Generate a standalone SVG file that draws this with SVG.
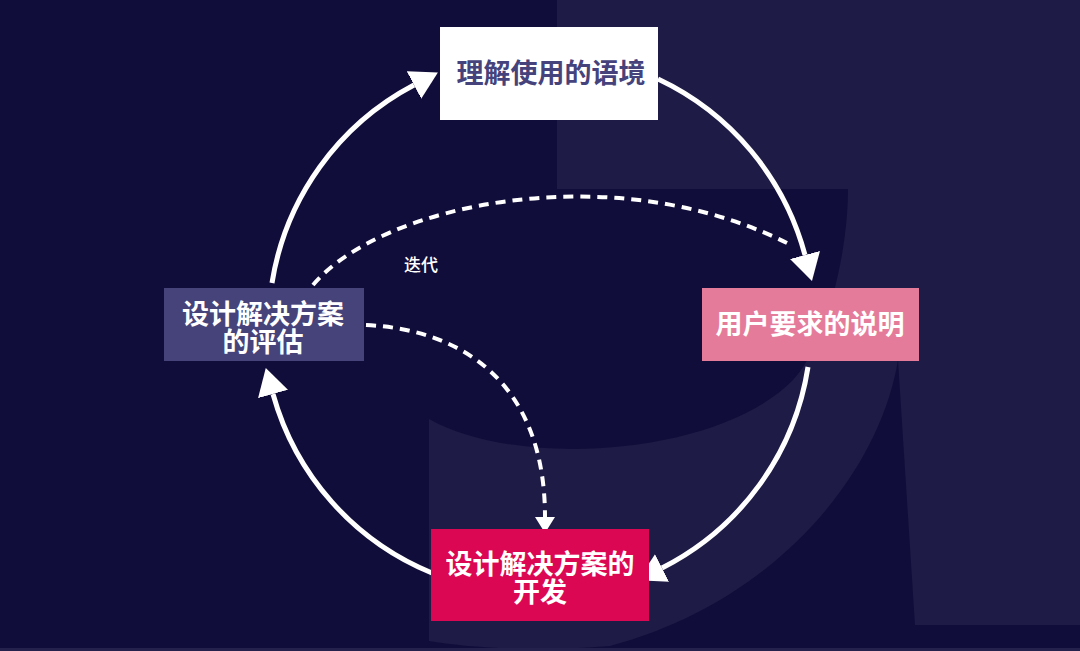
<svg xmlns="http://www.w3.org/2000/svg" width="1080" height="651" viewBox="0 0 1080 651">
  <defs>
    <style>
      .lbl { font-family: "Noto Sans CJK SC", "Noto Sans", sans-serif; font-weight: 700; font-size: 27px; text-anchor: middle; fill: #ffffff; }
      .solid { fill: none; stroke: #ffffff; stroke-width: 5; }
      .dash { fill: none; stroke: #ffffff; stroke-width: 4; stroke-dasharray: 10 7; }
      .note { font-family: "Noto Sans CJK SC", "Noto Sans", sans-serif; font-weight: 500; font-size: 17px; fill: #ffffff; text-anchor: middle; }
    </style>
    <marker id="big" viewBox="0 0 27 31" refX="0" refY="15.5" markerWidth="27" markerHeight="31" markerUnits="userSpaceOnUse" orient="auto">
      <path d="M0,0 L27,15.5 L0,31 Z" fill="#ffffff"/>
    </marker>
    <marker id="small" viewBox="0 0 16 20" refX="0" refY="10" markerWidth="16" markerHeight="20" markerUnits="userSpaceOnUse" orient="auto">
      <path d="M0,0 L16,10 L0,20 Z" fill="#ffffff"/>
    </marker>
  </defs>

  <g id="background">
    <rect x="0" y="0" width="1080" height="651" fill="#110d3a"/>
    <path d="M557,0 H1080 V625 H915 L898,360 C880,470 780,600 610,646 C540,652 470,648 429,641 V419 C520,470 720,455 793,380 C823,349 848,260 848,189 H557 Z" fill="#1e1b46"/>
    <rect x="0" y="648" width="1080" height="3" fill="#24224c"/>
  </g>

  <g id="connectors">
    <path class="solid" d="M272,283 A272,272 0 0 1 414,85" marker-end="url(#big)"/>
    <path class="solid" d="M658,79 A272,272 0 0 1 805,255" marker-end="url(#big)"/>
    <path class="solid" d="M808,367 A272,272 0 0 1 662,568" marker-end="url(#big)"/>
    <path class="solid" d="M432,573 A272,272 0 0 1 273,394" marker-end="url(#big)"/>
    <path class="dash" d="M313,285 C380,205 610,155 787,243"/>
    <path class="dash" d="M366,325 C470,330 545,390 545,517" marker-end="url(#small)"/>
    <text class="note" x="421" y="271">迭代</text>
  </g>

  <g id="node-context">
    <rect x="440" y="27" width="218" height="93" fill="#ffffff"/>
    <text class="lbl" x="551" y="83" style="fill:#46437c">理解使用的语境</text>
  </g>

  <g id="node-requirements">
    <rect x="702" y="288" width="217" height="73" fill="#e57b9a"/>
    <text class="lbl" x="810" y="334">用户要求的说明</text>
  </g>

  <g id="node-development">
    <rect x="431" y="529" width="218" height="92" fill="#dc0753"/>
    <text class="lbl"><tspan x="540" y="574">设计解决方案的</tspan><tspan x="540" y="602">开发</tspan></text>
  </g>

  <g id="node-evaluation">
    <rect x="164" y="288" width="200" height="73" fill="#46437b"/>
    <text class="lbl"><tspan x="263" y="324">设计解决方案</tspan><tspan x="263" y="352">的评估</tspan></text>
  </g>
</svg>
